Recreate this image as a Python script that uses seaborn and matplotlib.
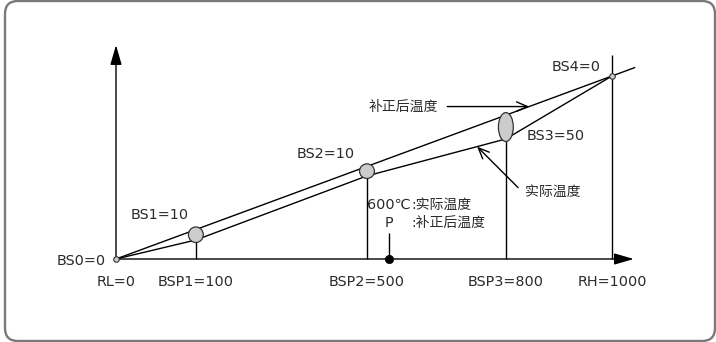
import matplotlib

matplotlib.use("Agg")
import matplotlib.pyplot as plt
import numpy as np
import pandas as pd
import seaborn as sns
from matplotlib.patches import Ellipse, FancyBboxPatch

# schematic break points (drawn positions, not to scale)
bsp_labels = ["RL=0", "BSP1=100", "BSP2=500", "BSP3=800", "RH=1000"]
bsp_pos = [0, 161, 506, 786, 1000]
bs_labels = ["BS0=0", "BS1=10", "BS2=10", "BS3=50", "BS4=0"]
actual_t = [0, 104, 454, 656, 1000]      # 实际温度
corrected_t = [0, 161, 506, 786, 1000]   # 补正后温度
line_end = 1046
p_pos = 550

sns.set_theme(style="white")
plt.rcParams["font.family"] = ["DejaVu Sans", "Noto Sans CJK SC"]

TXT = "#2b2b2b"
FS = 10.4     # latin labels
FS_CN = 10    # chinese labels

XLIM = (-233.9, 1209.7)
YLIM = (-453.6, 1415.3)

fig = plt.figure(figsize=(7.16, 3.42), dpi=100)
ax = fig.add_axes([0, 0, 1, 1])

# outer rounded frame
frame = FancyBboxPatch((5 / 716, 1 / 342), 710 / 716, 340 / 342,
                       boxstyle="round,pad=0,rounding_size=0.018",
                       transform=fig.transFigure, fill=False,
                       edgecolor="#7a7a7a", lw=1.7, mutation_aspect=2.1)
fig.patches.append(frame)

# axes arrows
head = dict(arrowstyle="-|>,head_length=1.0,head_width=0.29", color="black",
            lw=1.0, shrinkA=0, shrinkB=0)
ax.annotate("", xy=(0, 1169), xytext=(0, 0), arrowprops=head)
ax.annotate("", xy=(1044, 0), xytext=(0, 0), arrowprops=head)

# temperature lines
df = pd.DataFrame({"x": bsp_pos, "actual": actual_t})
ext = pd.DataFrame({"x": bsp_pos + [line_end], "corrected": corrected_t + [line_end]})
sns.lineplot(data=ext, x="x", y="corrected", color="black", lw=1.0, ax=ax,
             sort=False)
sns.lineplot(data=df, x="x", y="actual", color="black", lw=1.0, ax=ax, sort=False)

# vertical drop lines
ax.vlines(bsp_pos[1:4], 0, actual_t[1:4], color="black", lw=1.0)
ax.vlines(bsp_pos[4], 0, 1115, color="black", lw=1.0)

# ellipses between the two lines
for i in range(1, 4):
    cy = (actual_t[i] + corrected_t[i]) / 2
    h = corrected_t[i] - actual_t[i] + 28
    ax.add_patch(Ellipse((bsp_pos[i], cy), 30, h, facecolor="#cccccc",
                         edgecolor="#333333", lw=0.9, zorder=3))

# small end circles
ends = pd.DataFrame({"x": [bsp_pos[0], bsp_pos[4]], "y": [actual_t[0], actual_t[4]]})
sns.scatterplot(data=ends, x="x", y="y", s=16, color="#cccccc",
                edgecolor="#333333", linewidth=0.8, ax=ax, zorder=4)

# point P
ax.vlines(p_pos, 0, 140, color="black", lw=1.0)
sns.scatterplot(x=[p_pos], y=[0], s=36, color="black", edgecolor="black", ax=ax,
                zorder=4)

ax.set_xlim(*XLIM)
ax.set_ylim(*YLIM)
ax.axis("off")

# bottom labels
for lab, x in zip(bsp_labels, bsp_pos):
    ax.annotate(lab, (x, 0), xytext=(0, -23), textcoords="offset pixels",
                ha="center", va="center", fontsize=FS, color=TXT)

# BS labels
bs_off = [(-10, -2, "right"), (-36, 20, "center"), (-41, 17, "center"),
          (50, -9, "center"), (-36, 9, "center")]
for i, (lab, (dx, dy, ha)) in enumerate(zip(bs_labels, bs_off)):
    cy = (actual_t[i] + corrected_t[i]) / 2
    ax.annotate(lab, (bsp_pos[i], cy), xytext=(dx, dy), textcoords="offset pixels",
                ha=ha, va="center", fontsize=FS, color=TXT)

# P annotation
ax.annotate("600℃", (p_pos, 0), xytext=(22, 54), textcoords="offset pixels",
            ha="right", va="center", fontsize=FS, color=TXT)
ax.annotate(":实际温度", (p_pos, 0), xytext=(23, 54), textcoords="offset pixels",
            ha="left", va="center", fontsize=FS_CN, color=TXT)
ax.annotate("P", (p_pos, 0), xytext=(0, 36), textcoords="offset pixels",
            ha="center", va="center", fontsize=FS, color=TXT)
ax.annotate(":补正后温度", (p_pos, 0), xytext=(23, 36), textcoords="offset pixels",
            ha="left", va="center", fontsize=FS_CN, color=TXT)

# pointer arrows
open_head = dict(arrowstyle="->,head_length=0.65,head_width=0.28", color="black",
                 lw=1.0, shrinkA=0, shrinkB=0)
cx = 833
cy = np.interp(cx, bsp_pos, corrected_t)
ax.annotate("", (cx, cy), xytext=(-82, 0), textcoords="offset pixels",
            arrowprops=open_head)
ax.annotate("补正后温度", (cx, cy), xytext=(-126, 0), textcoords="offset pixels",
            ha="center", va="center", fontsize=FS_CN, color=TXT)

ax_x = 728
ay = np.interp(ax_x, bsp_pos, actual_t)
ax.annotate("", (ax_x, ay), xytext=(41, -41), textcoords="offset pixels",
            arrowprops=open_head)
ax.annotate("实际温度", (ax_x, ay), xytext=(76, -45), textcoords="offset pixels",
            ha="center", va="center", fontsize=FS_CN, color=TXT)

fig.savefig("out.png", dpi=100)
